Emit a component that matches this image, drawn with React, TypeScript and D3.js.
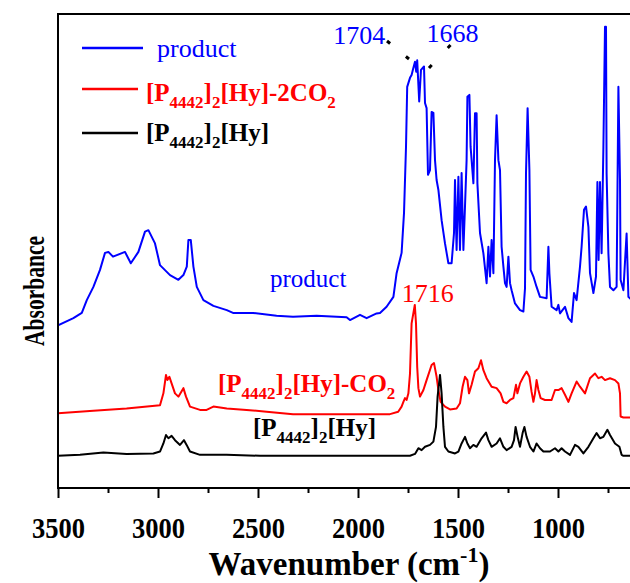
import React, { useEffect, useRef } from "react";
import * as d3 from "d3";

const WIDTH = 630;
const HEIGHT = 583;
const MARGIN = { LEFT: 58, TOP: 14, BOTTOM: 487 };
const FONT = '"Liberation Serif", "Times New Roman", serif';

const X_TICKS = [3500, 3000, 2500, 2000, 1500, 1000];
const X_MINOR = [3250, 2750, 2250, 1750, 1250, 750];

// [wavenumber (cm-1), absorbance (stacked, arbitrary units)]
const PRODUCT: [number, number][] = [
  [3500, 34.2], [3423, 35.7], [3381, 36.8], [3356, 39.5], [3323, 42.3], [3290, 45.9],
  [3265, 49.5], [3248, 49.7], [3225, 48.7], [3165, 49.7], [3136, 47.3], [3098, 49.7],
  [3065, 54.0], [3048, 54.3], [3015, 51.5], [2990, 46.9], [2940, 44.8], [2898, 43.8],
  [2873, 44.8], [2856, 46.6], [2848, 52.2], [2836, 52.2], [2823, 46.6], [2806, 42.3],
  [2773, 39.5], [2723, 38.3], [2656, 37.4], [2625, 36.8], [2525, 36.8], [2407, 36.2],
  [2325, 36.0], [2207, 36.2], [2057, 35.9], [2040, 35.3], [1990, 36.4], [1957, 35.7],
  [1907, 36.7], [1890, 36.8], [1857, 38.1], [1823, 40.2], [1807, 45.2], [1782, 49.5],
  [1770, 57.9], [1760, 71.9], [1754, 84.6], [1740, 86.5], [1732, 87.1], [1724, 88.5],
  [1715, 89.9], [1709, 87.8], [1704, 90.2], [1694, 81.5], [1685, 88.2], [1670, 88.9],
  [1665, 81.2], [1657, 80.1], [1650, 66.0], [1640, 67.0], [1632, 79.3], [1623, 79.1],
  [1615, 69.1], [1607, 64.9], [1598, 62.8], [1582, 56.4], [1565, 51.5], [1548, 47.3],
  [1532, 47.3], [1520, 53.7], [1515, 64.9], [1507, 50.1], [1498, 65.6], [1490, 50.1],
  [1482, 66.4], [1473, 50.1], [1465, 59.3], [1457, 69.1], [1453, 82.5], [1443, 82.9],
  [1437, 71.9], [1423, 64.2], [1415, 79.0], [1407, 79.0], [1403, 64.2], [1390, 53.7],
  [1373, 49.4], [1357, 43.1], [1348, 50.8], [1340, 44.5], [1332, 52.2], [1323, 45.2],
  [1315, 69.1], [1307, 78.6], [1298, 69.1], [1290, 67.0], [1282, 50.8], [1273, 46.6],
  [1265, 43.1], [1257, 42.3], [1248, 48.7], [1240, 43.1], [1232, 41.6], [1215, 38.8],
  [1190, 37.4], [1173, 37.1], [1165, 42.0], [1160, 66.3], [1152, 80.1], [1143, 67.0],
  [1137, 45.9], [1123, 44.5], [1107, 42.3], [1090, 40.2], [1057, 39.9], [1048, 50.8],
  [1043, 45.2], [1032, 38.1], [1007, 37.4], [998, 38.5], [990, 36.7], [965, 38.1],
  [948, 35.7], [932, 34.9], [920, 41.0], [907, 39.5], [890, 46.6], [882, 50.8],
  [870, 58.6], [860, 59.3], [848, 55.0], [840, 45.2], [823, 41.0], [810, 44.5],
  [803, 64.5], [797, 48.0], [790, 64.5], [782, 49.4], [773, 71.9], [765, 97.3],
  [760, 97.3], [757, 66.3], [748, 49.4], [740, 42.3], [723, 41.6], [707, 42.3],
  [698, 84.6], [690, 64.9], [687, 43.8], [673, 41.6], [657, 53.6], [648, 40.2],
  [630, 39.5],
];

const CO2_ADDUCT: [number, number][] = [
  [3500, 15.6], [3323, 16.1], [3157, 16.6], [2990, 17.3], [2973, 19.8], [2960, 23.7],
  [2953, 22.6], [2943, 23.3], [2932, 21.9], [2915, 19.8], [2898, 19.1], [2873, 20.9],
  [2860, 19.1], [2840, 17.0], [2790, 16.3], [2757, 16.3], [2723, 17.0], [2656, 16.6],
  [2557, 16.3], [2457, 15.9], [2325, 15.4], [2157, 15.4], [1907, 15.4], [1840, 15.4],
  [1799, 15.9], [1782, 17.0], [1773, 18.0], [1765, 18.8], [1757, 18.4], [1748, 19.8],
  [1740, 24.0], [1732, 34.6], [1716, 38.5], [1710, 34.6], [1704, 25.4], [1698, 20.9],
  [1690, 19.1], [1673, 20.5], [1657, 22.6], [1632, 25.8], [1620, 26.2], [1607, 23.3],
  [1598, 20.5], [1587, 18.0], [1565, 17.0], [1540, 16.4], [1507, 16.6], [1490, 17.7],
  [1477, 21.2], [1465, 23.3], [1453, 22.6], [1445, 19.8], [1432, 21.6], [1415, 24.4],
  [1398, 25.1], [1385, 26.8], [1373, 24.7], [1357, 23.0], [1332, 21.2], [1307, 20.9],
  [1287, 19.8], [1273, 18.0], [1257, 17.7], [1240, 18.4], [1223, 18.8], [1210, 21.6],
  [1203, 19.8], [1190, 21.9], [1173, 23.3], [1157, 24.4], [1143, 23.3], [1132, 20.1],
  [1123, 18.0], [1115, 19.8], [1107, 22.6], [1098, 20.5], [1087, 18.8], [1065, 18.4],
  [1032, 18.4], [1015, 20.5], [998, 20.5], [982, 20.9], [965, 19.5], [948, 18.0],
  [932, 19.8], [907, 22.3], [890, 21.2], [865, 19.8], [840, 23.0], [815, 24.0],
  [798, 23.0], [782, 23.3], [765, 22.6], [740, 23.0], [715, 22.6], [698, 21.9],
  [690, 19.8], [687, 14.9], [673, 14.7], [630, 14.7],
];

const NEAT: [number, number][] = [
  [3500, 6.6], [3390, 6.8], [3273, 7.3], [3157, 7.0], [3023, 7.1], [2990, 7.5],
  [2973, 9.2], [2960, 11.0], [2948, 10.3], [2932, 10.8], [2915, 9.9], [2890, 8.9],
  [2870, 9.9], [2857, 8.9], [2840, 7.5], [2790, 6.8], [2657, 6.8], [2490, 6.6],
  [2157, 6.6], [1740, 6.6], [1715, 7.0], [1698, 8.2], [1682, 7.8], [1665, 8.5],
  [1640, 8.9], [1623, 9.6], [1610, 12.7], [1602, 19.1], [1590, 23.7], [1582, 19.8],
  [1573, 12.7], [1565, 8.5], [1548, 7.5], [1515, 7.1], [1498, 7.5], [1482, 9.2],
  [1465, 10.6], [1453, 9.2], [1440, 8.2], [1423, 8.9], [1407, 8.5], [1382, 10.3],
  [1360, 11.5], [1348, 9.9], [1332, 8.5], [1307, 9.2], [1290, 10.3], [1273, 8.5],
  [1257, 7.8], [1232, 8.5], [1220, 9.9], [1212, 12.7], [1202, 10.6], [1190, 8.5],
  [1177, 11.4], [1168, 12.7], [1157, 10.6], [1140, 8.5], [1123, 7.5], [1107, 9.2],
  [1090, 8.2], [1073, 7.5], [1040, 7.5], [1015, 8.2], [998, 7.5], [982, 8.2],
  [965, 7.5], [940, 6.8], [915, 8.9], [898, 8.5], [873, 7.1], [848, 8.5],
  [823, 10.3], [807, 11.4], [790, 10.3], [773, 10.6], [753, 12.1], [740, 11.0],
  [715, 9.2], [693, 8.5], [682, 6.8], [673, 6.6], [630, 6.6],
];

type Part = { t: string; s?: "sub" | "sup" };

const LABEL_PRODUCT: Part[] = [{ t: "product" }];
const LABEL_2CO2: Part[] = [
  { t: "[P" }, { t: "4442", s: "sub" }, { t: "]" }, { t: "2", s: "sub" },
  { t: "[Hy]-2CO" }, { t: "2", s: "sub" },
];
const LABEL_CO2: Part[] = [
  { t: "[P" }, { t: "4442", s: "sub" }, { t: "]" }, { t: "2", s: "sub" },
  { t: "[Hy]-CO" }, { t: "2", s: "sub" },
];
const LABEL_HY: Part[] = [
  { t: "[P" }, { t: "4442", s: "sub" }, { t: "]" }, { t: "2", s: "sub" }, { t: "[Hy]" },
];
const X_TITLE: Part[] = [{ t: "Wavenumber (cm" }, { t: "-1", s: "sup" }, { t: ")" }];

const SERIES = [
  { key: "product", data: PRODUCT, color: "#0000ff", legend: LABEL_PRODUCT, bold: false },
  { key: "co2", data: CO2_ADDUCT, color: "#ff0000", legend: LABEL_2CO2, bold: true },
  { key: "neat", data: NEAT, color: "#000000", legend: LABEL_HY, bold: true },
];

// writes text parts with sub/superscripts as tspans
const richText = (sel: any, parts: Part[], size: number) => {
  const small = Math.round(size * 0.68);
  let shift = 0;
  parts.forEach((p) => {
    const target = p.s === "sub" ? size * 0.28 : p.s === "sup" ? -size * 0.38 : 0;
    sel
      .append("tspan")
      .attr("dy", target - shift)
      .attr("font-size", p.s ? small : size)
      .text(p.t);
    shift = target;
  });
};

const App = () => {
  const svgRef = useRef<SVGSVGElement>(null);

  useEffect(() => {
    const svg = d3.select(svgRef.current);
    svg.selectAll("*").remove();
    svg.style("font-family", FONT);

    const xScale = d3
      .scaleLinear()
      .domain([3500, 400])
      .range([MARGIN.LEFT, MARGIN.LEFT + 620]);
    const yScale = d3
      .scaleLinear()
      .domain([0, 100])
      .range([MARGIN.BOTTOM, MARGIN.TOP]);
    const axisY = MARGIN.BOTTOM + 1;

    svg
      .append("defs")
      .append("clipPath")
      .attr("id", "plot-clip")
      .append("rect")
      .attr("x", MARGIN.LEFT)
      .attr("y", MARGIN.TOP)
      .attr("width", 640)
      .attr("height", axisY - MARGIN.TOP);

    const line = d3
      .line<[number, number]>()
      .x((d) => xScale(d[0]))
      .y((d) => yScale(d[1]));

    const plot = svg.append("g").attr("clip-path", "url(#plot-clip)");
    SERIES.forEach((s) => {
      plot
        .append("path")
        .datum(s.data)
        .attr("d", line)
        .attr("fill", "none")
        .attr("stroke", s.color)
        .attr("stroke-width", 2)
        .attr("stroke-linejoin", "round");
    });

    // frame (right side is cut off)
    svg
      .append("path")
      .attr("d", `M${WIDTH + 10},${MARGIN.TOP}H${MARGIN.LEFT}V${axisY}H${WIDTH + 10}`)
      .attr("fill", "none")
      .attr("stroke", "#000")
      .attr("stroke-width", 2);

    const xAxis = d3
      .axisBottom(xScale)
      .tickValues(X_TICKS)
      .tickSize(10)
      .tickSizeOuter(0)
      .tickFormat(d3.format("d"));
    const xMinor = d3
      .axisBottom(xScale)
      .tickValues(X_MINOR)
      .tickSize(5)
      .tickSizeOuter(0)
      .tickFormat(() => "");

    const gx = svg
      .append("g")
      .attr("transform", `translate(0,${axisY})`)
      .call(xAxis);
    gx.select(".domain").remove();
    gx.selectAll("line").attr("stroke-width", 2);
    gx.selectAll("text")
      .attr("y", 50)
      .attr("dy", 0)
      .attr("fill", "#000")
      .attr("font-family", FONT)
      .attr("font-weight", "bold")
      .attr("font-size", 30)
      .attr("textLength", 53)
      .attr("lengthAdjust", "spacingAndGlyphs");

    const gm = svg
      .append("g")
      .attr("transform", `translate(0,${axisY})`)
      .call(xMinor);
    gm.select(".domain").remove();
    gm.selectAll("line").attr("stroke-width", 2);

    // axis titles
    const xt = svg
      .append("text")
      .attr("x", 349)
      .attr("y", 575)
      .attr("text-anchor", "middle")
      .attr("font-weight", "bold");
    richText(xt, X_TITLE, 33);

    svg
      .append("text")
      .attr("transform", "translate(44,291) rotate(-90)")
      .attr("text-anchor", "middle")
      .attr("font-weight", "bold")
      .attr("font-size", 30)
      .attr("textLength", 110)
      .attr("lengthAdjust", "spacingAndGlyphs")
      .text("Absorbance");

    // legend
    const legendRows = [48, 89, 133];
    const legendBase = [57, 101, 141];
    SERIES.forEach((s, i) => {
      svg
        .append("line")
        .attr("x1", 82)
        .attr("x2", s.bold ? 138 : 143)
        .attr("y1", legendRows[i])
        .attr("y2", legendRows[i])
        .attr("stroke", s.color)
        .attr("stroke-width", 2.5);
      const t = svg
        .append("text")
        .attr("x", s.bold ? 146 : 157)
        .attr("y", legendBase[i])
        .attr("fill", s.color)
        .attr("font-weight", s.bold ? "bold" : "normal");
      richText(t, s.legend, s.bold ? 25 : 26);
    });

    // curve labels
    svg
      .append("text")
      .attr("x", 270)
      .attr("y", 287)
      .attr("fill", "#0000ff")
      .attr("font-size", 25)
      .text("product");
    const midRed = svg
      .append("text")
      .attr("x", 218)
      .attr("y", 392)
      .attr("fill", "#ff0000")
      .attr("font-weight", "bold");
    richText(midRed, LABEL_CO2, 25);
    const midBlack = svg
      .append("text")
      .attr("x", 253)
      .attr("y", 436)
      .attr("fill", "#000")
      .attr("font-weight", "bold");
    richText(midBlack, LABEL_HY, 25);

    // peak annotations
    svg
      .append("text")
      .attr("x", xScale(1704) - 32)
      .attr("y", 44)
      .attr("text-anchor", "end")
      .attr("fill", "#0000ff")
      .attr("font-size", 26)
      .text("1704");
    svg
      .append("text")
      .attr("x", xScale(1668) + 2)
      .attr("y", 42)
      .attr("fill", "#0000ff")
      .attr("font-size", 26)
      .text("1668");
    svg
      .append("text")
      .attr("x", xScale(1716) - 13)
      .attr("y", 302)
      .attr("fill", "#ff0000")
      .attr("font-size", 26)
      .text("1716");

    const pointers = [
      [387, 41, 409, 59],
      [450.5, 45, 429, 68],
    ];
    pointers.forEach(([x1, y1, x2, y2]) => {
      const len = Math.hypot(x2 - x1, y2 - y1);
      svg
        .append("line")
        .attr("x1", x1)
        .attr("y1", y1)
        .attr("x2", x2)
        .attr("y2", y2)
        .attr("stroke", "#000")
        .attr("stroke-width", 3)
        .attr("stroke-dasharray", `4 ${len - 8}`);
    });
  }, []);

  return (
    <svg
      ref={svgRef}
      width={WIDTH}
      height={HEIGHT}
      style={{ position: "absolute", left: 0, top: 0, background: "#fff" }}
    />
  );
};

export default App;
